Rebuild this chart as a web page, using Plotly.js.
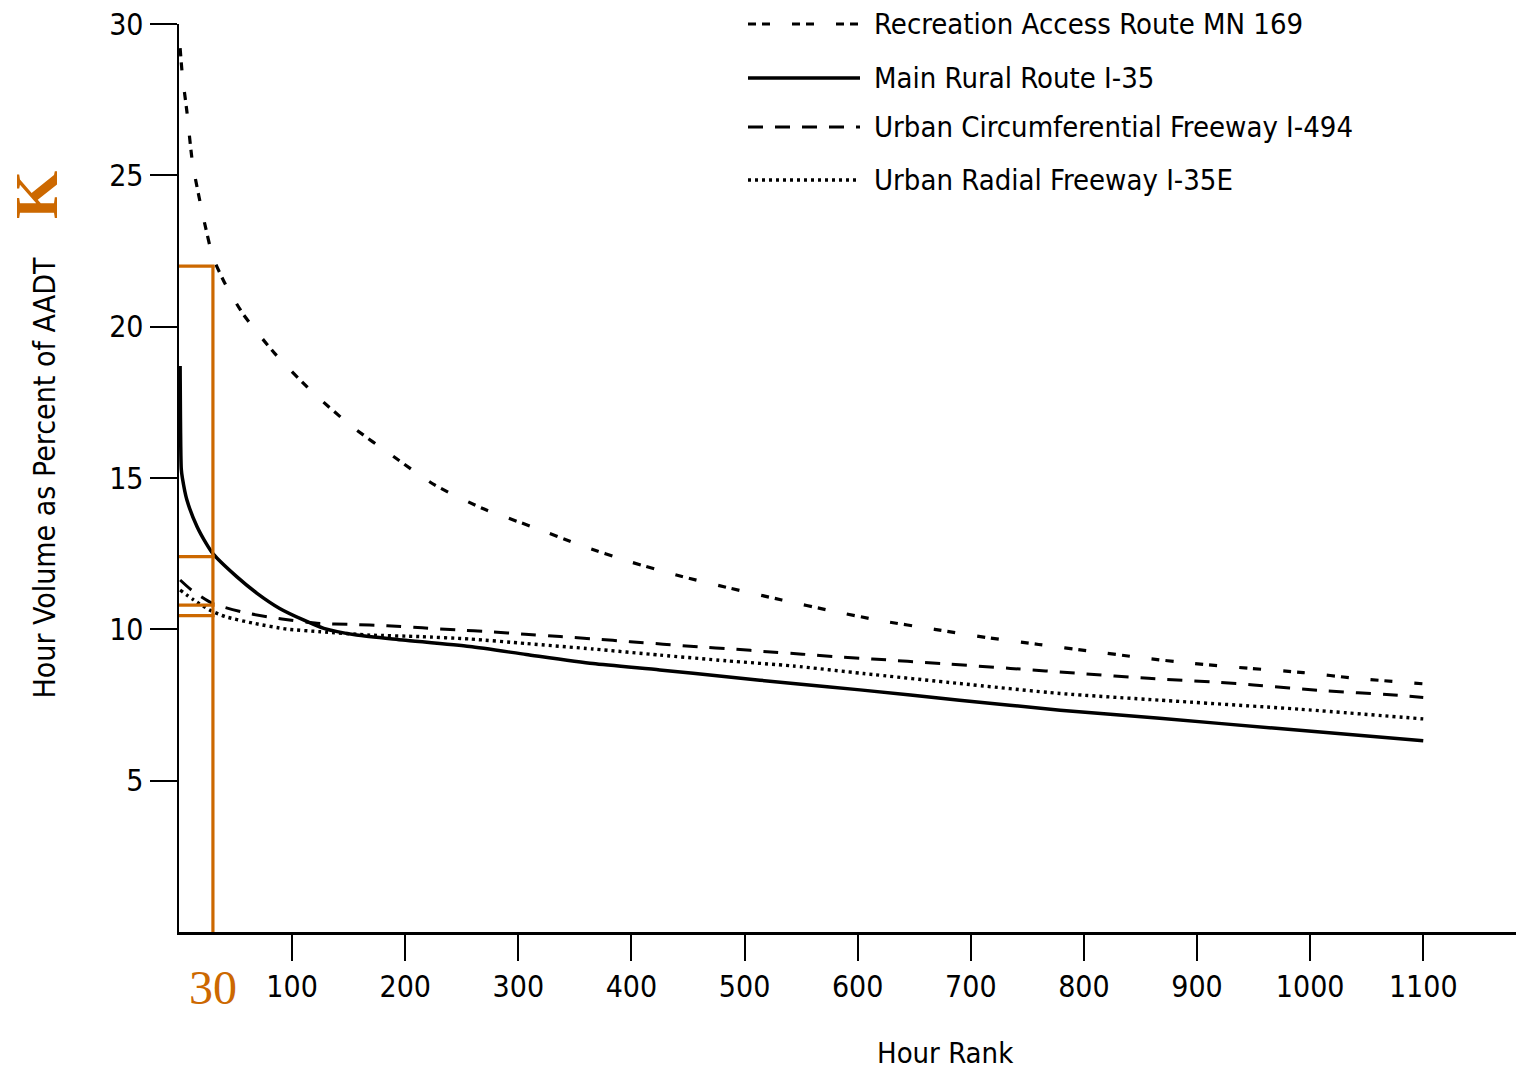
<!DOCTYPE html>
<html>
<head>
<meta charset="utf-8">
<script src="https://cdn.plot.ly/plotly-3.0.1.min.js"></script>
<style>
  html, body { margin: 0; padding: 0; background: #ffffff; }
  #chart { width: 1516px; height: 1073px; }
</style>
</head>
<body>
<div id="chart"></div>
<script>
// ---------- DATA ----------
const seriesNames = [
  "Recreation Access Route MN 169",
  "Main Rural Route I-35",
  "Urban Circumferential Freeway I-494",
  "Urban Radial Freeway I-35E"
];

// Recreation Access Route MN 169
const rankRecreation = [1, 3, 7, 12, 21, 30, 41, 57, 85, 119, 153, 190, 226, 268, 312, 355, 399, 443, 487, 533, 577, 620, 668, 714, 760, 806, 851, 897, 947, 994, 1041, 1100];
const pctRecreation  = [29.2, 28.3, 27.1, 25.4, 23.7, 22.3, 21.4, 20.4, 19.1, 17.8, 16.7, 15.7, 14.77, 14.0, 13.39, 12.78, 12.23, 11.76, 11.36, 10.97, 10.61, 10.29, 10.0, 9.73, 9.5, 9.28, 9.06, 8.87, 8.71, 8.57, 8.38, 8.2];

// Main Rural Route I-35
const rankRural = [1, 2, 3, 7, 16, 24, 30, 51, 69, 89, 110, 128, 157, 198, 257, 307, 366, 425, 484, 543, 602, 690, 779, 867, 970, 1100];
const pctRural  = [18.7, 15.3, 15.0, 14.27, 13.39, 12.84, 12.5, 11.74, 11.19, 10.69, 10.31, 10.03, 9.81, 9.65, 9.43, 9.17, 8.87, 8.66, 8.43, 8.21, 8.0, 7.66, 7.33, 7.06, 6.73, 6.32];

// Urban Circumferential Freeway I-494
const rankCircum = [1, 11, 30, 61, 91, 122, 153, 184, 215, 246, 275, 306, 337, 368, 399, 428, 459, 490, 520, 551, 582, 613, 674, 735, 797, 857, 919, 950, 1012, 1074, 1100];
const pctCircum  = [11.63, 11.3, 10.85, 10.53, 10.34, 10.2, 10.16, 10.12, 10.05, 9.98, 9.92, 9.84, 9.76, 9.68, 9.59, 9.51, 9.42, 9.35, 9.26, 9.18, 9.09, 9.02, 8.87, 8.71, 8.54, 8.38, 8.25, 8.16, 7.97, 7.83, 7.75];

// Urban Radial Freeway I-35E
const rankRadial = [1, 13, 27, 41, 66, 95, 125, 169, 213, 257, 307, 366, 425, 484, 543, 605, 690, 779, 867, 991, 1100];
const pctRadial  = [11.3, 10.97, 10.64, 10.42, 10.2, 10.01, 9.92, 9.81, 9.76, 9.68, 9.53, 9.35, 9.15, 8.96, 8.79, 8.54, 8.21, 7.88, 7.66, 7.36, 7.04];

// Axis ticks
const xTickVals = [100, 200, 300, 400, 500, 600, 700, 800, 900, 1000, 1100];
const xTickText = ["100", "200", "300", "400", "500", "600", "700", "800", "900", "1000", "1100"];
const yTickVals = [5, 10, 15, 20, 25, 30];
const yTickText = ["5", "10", "15", "20", "25", "30"];

// 30th highest hour (K factor) marker
const kHour = 30;
const kHourLabel = "30";
const kLetter = "K";
const kValues = [22.0, 12.4, 10.8, 10.45];

const xTitle = "Hour Rank";
const yTitle = "Hour Volume as Percent of AADT";

// ---------- STYLE ----------
const NARROW = "'Liberation Sans Narrow', 'Arial Narrow', 'DejaVu Sans Condensed', sans-serif";
const SERIF = "'Liberation Serif', 'Times New Roman', 'DejaVu Serif', serif";
const ORANGE = "rgb(204,104,0)";
const BLACK = "#000000";

const lineStyles = [
  { color: BLACK, width: 3.2, dash: "8px,6px,8px,22px" },
  { color: BLACK, width: 3.5, dash: "solid" },
  { color: BLACK, width: 3.0, dash: "15px,12px" },
  { color: BLACK, width: 3.4, dash: "3px,4px" }
];

const xs = [rankRecreation, rankRural, rankCircum, rankRadial];
const ys = [pctRecreation, pctRural, pctCircum, pctRadial];

const traces = seriesNames.map((name, i) => ({
  type: "scatter",
  mode: "lines",
  name: name,
  x: xs[i],
  y: ys[i],
  line: { color: lineStyles[i].color, width: lineStyles[i].width, dash: lineStyles[i].dash, shape: "spline", smoothing: 0.6 },
  showlegend: false,
  hoverinfo: "x+y+name"
}));

// plot area geometry (px) for layout-only positioning of legend/labels
const W = 1516, H = 1073;
const M = { l: 179, r: 0, t: 24, b: 141 };
const PW = W - M.l - M.r, PH = H - M.t - M.b;
const px2paperX = px => (px - M.l) / PW;
const px2paperY = py => (H - M.b - py) / PH;

// K marker shapes (data coordinates)
const shapes = [];
shapes.push({
  type: "line", xref: "x", yref: "y",
  x0: kHour, x1: kHour, y0: 0, y1: kValues[0],
  line: { color: ORANGE, width: 3.2 }
});
kValues.forEach(v => {
  shapes.push({
    type: "line", xref: "x", yref: "y",
    x0: 0, x1: kHour + 1.5, y0: v, y1: v,
    line: { color: ORANGE, width: 3.2 }
  });
});

// custom legend (long line samples as in the reference)
const legendRowsPx = [24, 78, 127, 180];
const legendLineX0 = px2paperX(748), legendLineX1 = px2paperX(860), legendTextX = px2paperX(872);
const annotations = [];
seriesNames.forEach((name, i) => {
  const yy = px2paperY(legendRowsPx[i]);
  shapes.push({
    type: "line", xref: "paper", yref: "paper",
    x0: legendLineX0, x1: legendLineX1, y0: yy, y1: yy,
    line: { color: lineStyles[i].color, width: lineStyles[i].width, dash: lineStyles[i].dash }
  });
  annotations.push({
    xref: "paper", yref: "paper", x: legendTextX, y: yy,
    xanchor: "left", yanchor: "middle", showarrow: false,
    text: name, font: { family: NARROW, size: 29, color: BLACK }
  });
});

// "30" label under the x axis and "K" letter
annotations.push({
  xref: "x", yref: "paper", x: kHour, y: px2paperY(987),
  xanchor: "center", yanchor: "middle", showarrow: false,
  text: kHourLabel, font: { family: SERIF, size: 48, color: ORANGE }
});
annotations.push({
  xref: "paper", yref: "paper", x: px2paperX(36), y: px2paperY(195),
  xanchor: "center", yanchor: "middle", showarrow: false, textangle: -90,
  text: "<b>" + kLetter + "</b>", font: { family: SERIF, size: 62, color: ORANGE }
});
annotations.push({
  xref: "paper", yref: "paper", x: px2paperX(945), y: px2paperY(1053),
  xanchor: "center", yanchor: "middle", showarrow: false,
  text: xTitle, font: { family: NARROW, size: 29, color: BLACK }
});

const layout = {
  width: W, height: H,
  margin: M,
  paper_bgcolor: "#ffffff",
  plot_bgcolor: "#ffffff",
  showlegend: false,
  font: { family: NARROW, size: 30, color: BLACK },
  xaxis: {
    range: [0, 1182],
    showgrid: false, zeroline: false,
    showline: true, linecolor: BLACK, linewidth: 2.5,
    ticks: "outside", ticklen: 26, tickwidth: 2, tickcolor: BLACK,
    tickmode: "array", tickvals: xTickVals, ticktext: xTickText,
    tickfont: { family: NARROW, size: 30, color: BLACK }
  },
  yaxis: {
    range: [0, 30],
    showgrid: false, zeroline: false,
    showline: true, linecolor: BLACK, linewidth: 2.5,
    ticks: "outside", ticklen: 27, tickwidth: 2, tickcolor: BLACK,
    tickmode: "array", tickvals: yTickVals, ticktext: yTickText,
    tickfont: { family: NARROW, size: 30, color: BLACK },
    title: { text: yTitle, font: { family: NARROW, size: 30, color: BLACK }, standoff: 45 }
  },
  shapes: shapes,
  annotations: annotations
};

Plotly.newPlot("chart", traces, layout, { displayModeBar: false, staticPlot: true });
</script>
</body>
</html>
